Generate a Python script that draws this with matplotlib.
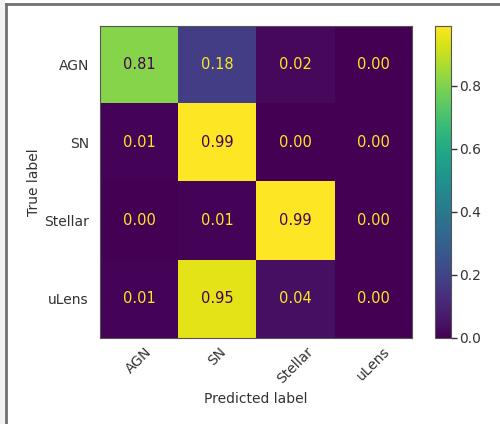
import matplotlib.pyplot as plt
import numpy as np
from matplotlib.lines import Line2D
from matplotlib.patches import Rectangle

labels = ["AGN", "SN", "Stellar", "uLens"]
row_agn = [0.81, 0.18, 0.02, 0.00]
row_sn = [0.01, 0.99, 0.00, 0.00]
row_stellar = [0.00, 0.01, 0.99, 0.00]
row_ulens = [0.01, 0.95, 0.04, 0.00]

cm = np.array([row_agn, row_sn, row_stellar, row_ulens])

txt = "#333333"
plt.rcParams["font.family"] = "DejaVu Sans"
plt.rcParams["font.size"] = 10

fig = plt.figure(figsize=(5, 4.24), dpi=100)

# screenshot frame (top and left edges)
fig.add_artist(Rectangle((0, 0), 0.01, 1, transform=fig.transFigure, color="#f2f2f2", lw=0))
fig.add_artist(Line2D([0.012, 0.012], [0, 0.99], transform=fig.transFigure, color="#707070", lw=2))
fig.add_artist(Line2D([0.011, 1], [0.99, 0.99], transform=fig.transFigure, color="#707070", lw=2))

ax = fig.add_axes([0.2, 0.203, 0.624, 0.736])
cax = fig.add_axes([0.87, 0.203, 0.032, 0.736])

cmap = plt.get_cmap("viridis")
im = ax.imshow(cm, cmap=cmap, interpolation="nearest", aspect="auto")

lo, hi = cmap(0.0), cmap(1.0)
thresh = (cm.max() + cm.min()) / 2.0
for i in range(cm.shape[0]):
    for j in range(cm.shape[1]):
        color = lo if cm[i, j] >= thresh else hi
        ax.text(j, i, f"{cm[i, j]:.2f}", ha="center", va="center", color=color, fontsize=10.5)

ax.set_xticks(range(len(labels)))
ax.set_yticks(range(len(labels)))
ax.set_xticklabels(labels, rotation=45, color=txt)
ax.set_yticklabels(labels, color=txt)
ax.tick_params(axis="x", length=0, pad=5)
ax.tick_params(axis="y", length=0, pad=8)
ax.set_xlabel("Predicted label", color=txt)
ax.set_ylabel("True label", color=txt)
ax.xaxis.set_label_coords(0.5, -0.172)
ax.yaxis.set_label_coords(-0.19, 0.5)
for s in ax.spines.values():
    s.set_color("#555555")

cb = fig.colorbar(im, cax=cax)
cb.set_ticks([0.0, 0.2, 0.4, 0.6, 0.8])
cb.ax.tick_params(colors=txt, length=4, width=1, pad=2)
cb.outline.set_edgecolor("#555555")

fig.savefig("out.png", dpi=100)
